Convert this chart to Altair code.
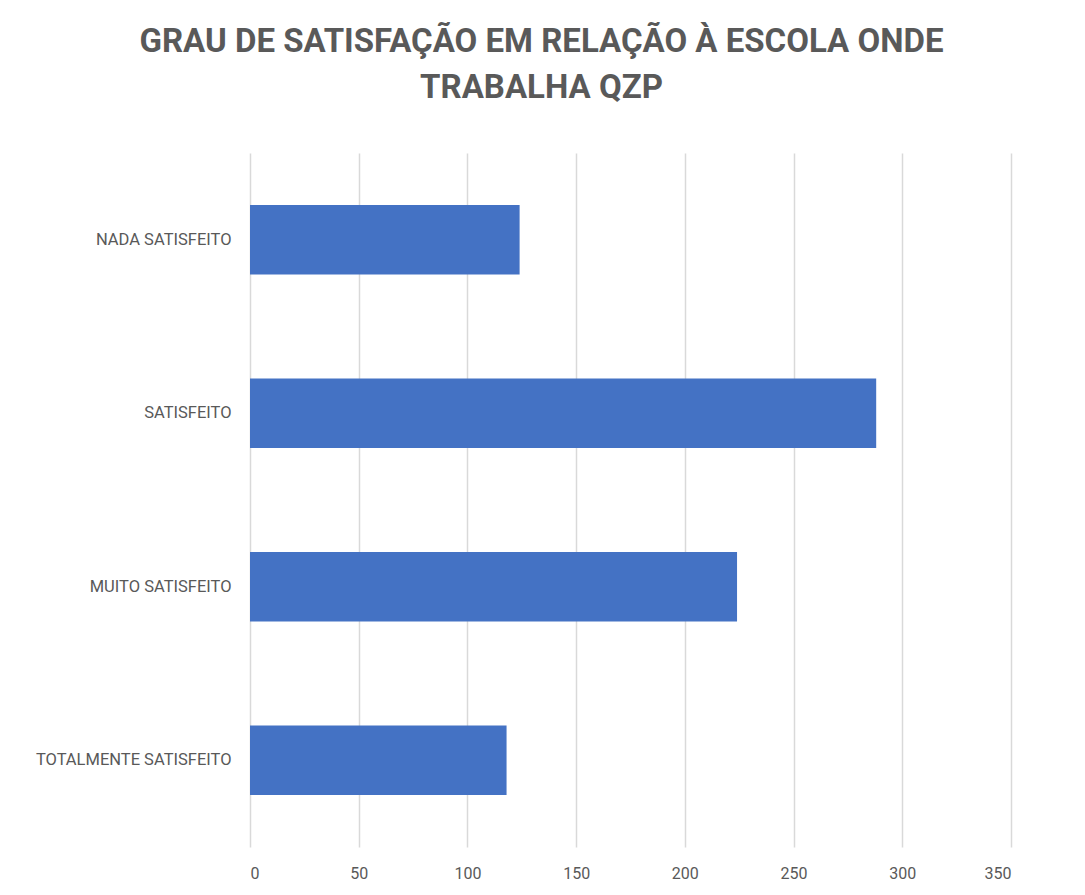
import altair as alt
import pandas as pd

categories = ["NADA SATISFEITO", "SATISFEITO", "MUITO SATISFEITO", "TOTALMENTE SATISFEITO"]
values = [124, 288, 224, 118]
x_ticks = [0, 50, 100, 150, 200, 250, 300, 350]
title_lines = ["GRAU DE SATISFAÇÃO EM RELAÇÃO À ESCOLA ONDE", "TRABALHA QZP"]

df = pd.DataFrame({"categoria": categories, "valor": values})

TXT = "#595959"
FONT = "Roboto"

bars = alt.Chart(df).mark_bar(color="#4472C4").encode(
    x=alt.X(
        "valor:Q",
        scale=alt.Scale(domain=[0, 350], nice=False, zero=True),
        axis=alt.Axis(
            values=x_ticks,
            title=None,
            domain=False,
            ticks=False,
            tickSize=0,
            grid=True,
            gridColor="#d9d9d9",
            gridWidth=1.5,
            labelFont=FONT,
            labelFontSize=16,
            labelColor=TXT,
            labelPadding=18,
        ),
    ),
    y=alt.Y(
        "categoria:N",
        sort=categories,
        scale=alt.Scale(paddingInner=0.6, paddingOuter=0.3),
        axis=alt.Axis(
            title=None,
            domain=False,
            ticks=False,
            tickSize=0,
            grid=False,
            labelFont=FONT,
            labelFontSize=16.5,
            labelColor=TXT,
            labelPadding=19,
            labelLimit=400,
        ),
    ),
)

chart = bars.properties(
    width=761,
    height=694,
    background="white",
    autosize=alt.AutoSizeParams(type="none"),
    padding={"left": 242, "top": 145, "right": 58, "bottom": 38},
    title=alt.TitleParams(
        text=title_lines,
        font=FONT,
        fontSize=33,
        fontWeight="bold",
        color=TXT,
        anchor="middle",
        dx=-89,
        lineHeight=46,
        baseline="bottom",
        offset=15,
    ),
).configure_view(stroke=None)

chart.save("out.html", embed_options={"renderer": "svg", "actions": False})
